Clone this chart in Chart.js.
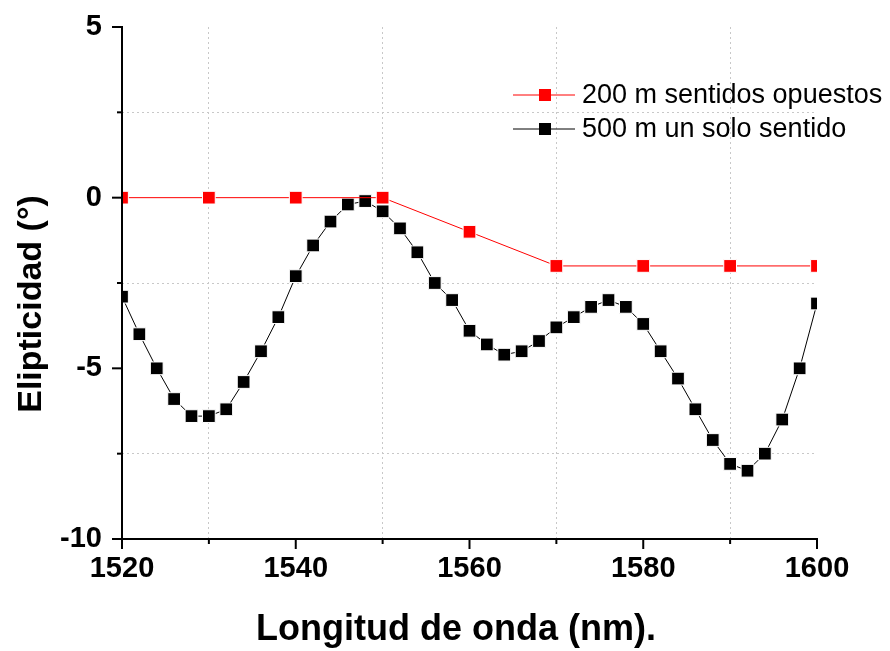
<!DOCTYPE html>
<html>
<head>
<meta charset="utf-8">
<script src="https://cdn.jsdelivr.net/npm/chart.js@4"></script>
<style>
  html, body { margin: 0; padding: 0; background: #fff; }
  #wrap { width: 890px; height: 651px; }
</style>
</head>
<body>
<div id="wrap"><canvas id="myChart" width="890" height="651"></canvas></div>
<script>
// data
const waveRed = [1520, 1530, 1540, 1550, 1560, 1570, 1580, 1590, 1600];
const elipRed = [0, 0, 0, 0, -1, -2, -2, -2, -2];

const waveBlack = [1520, 1522, 1524, 1526, 1528, 1530, 1532, 1534, 1536, 1538,
    1540, 1542, 1544, 1546, 1548, 1550, 1552, 1554, 1556, 1558,
    1560, 1562, 1564, 1566, 1568, 1570, 1572, 1574, 1576, 1578,
    1580, 1582, 1584, 1586, 1588, 1590, 1592, 1594, 1596, 1598, 1600];
const elipBlack = [-2.9, -4.0, -5.0, -5.9, -6.4, -6.4, -6.2, -5.4, -4.5, -3.5,
    -2.3, -1.4, -0.7, -0.2, -0.1, -0.4, -0.9, -1.6, -2.5, -3.0,
    -3.9, -4.3, -4.6, -4.5, -4.2, -3.8, -3.5, -3.2, -3.0, -3.2,
    -3.7, -4.5, -5.3, -6.2, -7.1, -7.8, -8.0, -7.5, -6.5, -5.0, -3.1];

const seriesNames = ['200 m sentidos opuestos', '500 m un solo sentido'];
const xTickLabels = [1520, 1540, 1560, 1580, 1600];
const yTickLabels = [5, 0, -5, -10];
const xTitle = 'Longitud de onda (nm).';
const yTitle = 'Elipticidad (°)';

const FONT = '"Liberation Sans", Arial, sans-serif';

function toPoints(xs, ys) {
    return xs.map((x, i) => ({x: x, y: ys[i]}));
}

const gridColor = (major) => (ctx) => major(ctx.tick.value) ? 'rgba(0,0,0,0)' : '#c8c8c8';

// axes, tick marks, titles and legend drawn over the chart
const decorations = {
    id: 'decorations',
    afterDraw(chart) {
        const c = chart.ctx;
        const xs = chart.scales.x, ys = chart.scales.y;
        const area = chart.chartArea;
        c.save();
        c.strokeStyle = '#000';
        c.lineWidth = 2;
        c.beginPath();
        c.moveTo(area.left, area.top - 1);
        c.lineTo(area.left, area.bottom);
        c.lineTo(area.right + 1, area.bottom);
        c.stroke();

        // x ticks
        xs.ticks.forEach(t => {
            const px = xs.getPixelForValue(t.value);
            const len = xTickLabels.includes(t.value) ? 10 : 5;
            c.beginPath();
            c.moveTo(px, area.bottom);
            c.lineTo(px, area.bottom + len);
            c.stroke();
        });
        // y ticks
        ys.ticks.forEach(t => {
            const py = ys.getPixelForValue(t.value);
            const len = yTickLabels.includes(t.value) ? 10 : 5;
            c.beginPath();
            c.moveTo(area.left, py);
            c.lineTo(area.left - len, py);
            c.stroke();
        });

        // titles
        c.fillStyle = '#000';
        c.textAlign = 'center';
        c.textBaseline = 'middle';
        c.font = 'bold 36px ' + FONT;
        c.fillText(xTitle, 456, 630);
        c.save();
        c.font = 'bold 34px ' + FONT;
        c.translate(32, 304);
        c.rotate(-Math.PI / 2);
        c.fillText(yTitle, 0, 0);
        c.restore();

        // legend
        c.font = '27px ' + FONT;
        c.textAlign = 'left';
        chart.data.datasets.forEach((ds, i) => {
            const y = 95 + i * 34;
            c.strokeStyle = ds.borderColor;
            c.lineWidth = 1;
            c.beginPath();
            c.moveTo(513, y);
            c.lineTo(575, y);
            c.stroke();
            c.fillStyle = ds.backgroundColor;
            c.fillRect(539, y - 6, 12, 12);
            c.fillStyle = '#000';
            c.fillText(ds.label, 582, y + 1);
        });
        c.restore();
    }
};

new Chart(document.getElementById('myChart'), {
    type: 'line',
    data: {
        datasets: [
            {
                label: seriesNames[0],
                data: toPoints(waveRed, elipRed),
                borderColor: '#ff0000',
                backgroundColor: '#ff0000',
                borderWidth: 1,
                pointStyle: 'rect',
                pointRadius: 9,
                pointBorderColor: '#ffffff',
                pointBorderWidth: 1,
                pointBackgroundColor: '#ff0000'
            },
            {
                label: seriesNames[1],
                data: toPoints(waveBlack, elipBlack),
                borderColor: '#000000',
                backgroundColor: '#000000',
                borderWidth: 1,
                pointStyle: 'rect',
                pointRadius: 9,
                pointBorderColor: '#ffffff',
                pointBorderWidth: 1,
                pointBackgroundColor: '#000000'
            }
        ]
    },
    options: {
        responsive: false,
        animation: false,
        devicePixelRatio: 1,
        layout: {padding: {top: 27, right: 73, left: 0, bottom: 0}},
        plugins: {legend: {display: false}, tooltip: {enabled: false}},
        scales: {
            x: {
                type: 'linear',
                min: 1520,
                max: 1600,
                afterFit: (s) => { s.height = 112; s.paddingLeft = 0; s.paddingRight = 0; },
                ticks: {
                    stepSize: 10,
                    padding: 13,
                    color: '#000',
                    maxRotation: 0,
                    autoSkip: false,
                    font: {family: FONT, size: 29, weight: 'bold'},
                    callback: (v) => xTickLabels.includes(v) ? String(v) : ''
                },
                grid: {
                    drawTicks: false,
                    lineWidth: 1,
                    color: gridColor(v => xTickLabels.includes(v))
                },
                border: {display: false, dash: [2, 3]}
            },
            y: {
                type: 'linear',
                min: -10,
                max: 5,
                afterFit: (s) => { s.width = 122; s.paddingTop = 0; s.paddingBottom = 0; },
                ticks: {
                    stepSize: 2.5,
                    padding: 20,
                    color: '#000',
                    autoSkip: false,
                    font: {family: FONT, size: 29, weight: 'bold'},
                    callback: (v) => yTickLabels.includes(v) ? String(v) : ''
                },
                grid: {
                    drawTicks: false,
                    lineWidth: 1,
                    color: gridColor(v => yTickLabels.includes(v))
                },
                border: {display: false, dash: [2, 3]}
            }
        }
    },
    plugins: [decorations]
});
</script>
</body>
</html>
